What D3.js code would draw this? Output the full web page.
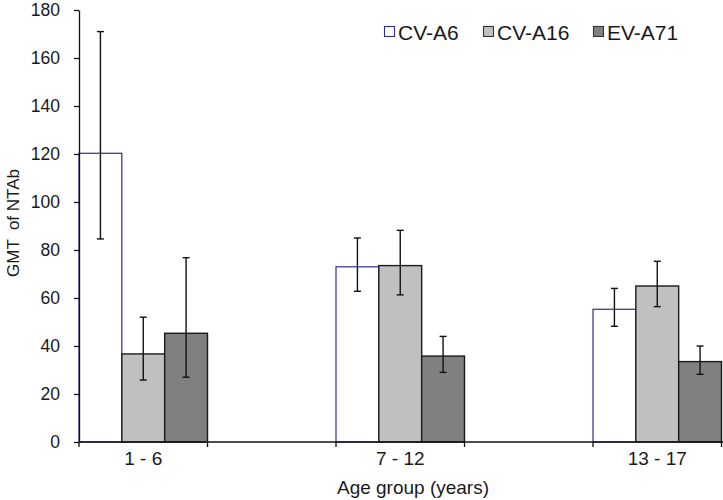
<!DOCTYPE html>
<html>
<head>
<meta charset="utf-8">
<script src="https://cdn.jsdelivr.net/npm/d3@7"></script>
<style>
  html, body { margin: 0; padding: 0; background: #fff; }
  svg { display: block; font-family: "Liberation Sans", Arial, sans-serif; }
</style>
</head>
<body>
<svg id="chart" width="723" height="500"></svg>
<script>
// ---- data ----
const categories = ["1 - 6", "7 - 12", "13 - 17"];
const seriesNames = ["CV-A6", "CV-A16", "EV-A71"];
const cvA6 = [120.3, 73.0, 55.3];
const cvA16 = [36.7, 73.5, 65.0];
const evA71 = [45.3, 35.8, 33.5];
const cvA6Low = [84.6, 62.8, 48.2];
const cvA6High = [171.0, 85.0, 64.0];
const cvA16Low = [25.8, 61.3, 56.4];
const cvA16High = [52.0, 88.2, 75.3];
const evA71Low = [27.0, 29.0, 28.2];
const evA71High = [76.8, 44.0, 40.0];
const yTicks = [0, 20, 40, 60, 80, 100, 120, 140, 160, 180];

const fills = {"CV-A6": "#ffffff", "CV-A16": "#c0c0c0", "EV-A71": "#808080"};
const strokes = {"CV-A6": "#2e2e8f", "CV-A16": "#1a1a1a", "EV-A71": "#1a1a1a"};

const series = [
  {name: "CV-A6", values: cvA6, low: cvA6Low, high: cvA6High},
  {name: "CV-A16", values: cvA16, low: cvA16Low, high: cvA16High},
  {name: "EV-A71", values: evA71, low: evA71Low, high: evA71High}
];

const svg = d3.select("#chart");
const mLeft = 79, mTop = 10, mBottom = 442, axisRight = 723;

const x0 = d3.scaleBand().domain(categories).range([mLeft, 721.5]).paddingInner(0.5).paddingOuter(0);
const x1 = d3.scaleBand().domain(seriesNames).range([0, x0.bandwidth()]).padding(0);
const y = d3.scaleLinear().domain([0, 180]).range([mBottom, mTop]);

// bars
series.forEach(s => {
  const g = svg.append("g");
  g.selectAll("rect").data(categories).join("rect")
    .attr("x", (c) => x0(c) + x1(s.name))
    .attr("y", (c, i) => y(s.values[i]))
    .attr("width", x1.bandwidth())
    .attr("height", (c, i) => y(0) - y(s.values[i]))
    .attr("fill", fills[s.name])
    .attr("stroke", strokes[s.name])
    .attr("stroke-width", s.name === "CV-A6" ? 1.2 : 1.4);
});

// error bars
const cap = 3.5;
series.forEach(s => {
  const g = svg.append("g").attr("stroke", "#111").attr("stroke-width", 1.4);
  categories.forEach((c, i) => {
    const cx = x0(c) + x1(s.name) + x1.bandwidth() / 2;
    g.append("line").attr("x1", cx).attr("x2", cx).attr("y1", y(s.low[i])).attr("y2", y(s.high[i]));
    g.append("line").attr("x1", cx - cap).attr("x2", cx + cap).attr("y1", y(s.low[i])).attr("y2", y(s.low[i]));
    g.append("line").attr("x1", cx - cap).attr("x2", cx + cap).attr("y1", y(s.high[i])).attr("y2", y(s.high[i]));
  });
});

// y axis
const yAxis = svg.append("g").attr("transform", `translate(${mLeft},0)`)
  .call(d3.axisLeft(y).tickValues(yTicks).tickSize(5).tickPadding(14).tickSizeOuter(0));
yAxis.select(".domain").attr("stroke", "#111").attr("stroke-width", 1.3);
yAxis.selectAll(".tick line").attr("stroke", "#111").attr("stroke-width", 1.3);
yAxis.selectAll(".tick text").attr("font-size", 17.5).attr("fill", "#1a1a1a")
  .attr("font-family", "Liberation Sans, Arial, sans-serif");

// x axis
const xg = svg.append("g");
xg.append("line").attr("x1", mLeft).attr("x2", axisRight).attr("y1", mBottom).attr("y2", mBottom)
  .attr("stroke", "#111").attr("stroke-width", 1.3);
const tickXs = [];
categories.forEach(c => { tickXs.push(x0(c)); tickXs.push(x0(c) + x0.bandwidth()); });
xg.selectAll("line.tk").data(tickXs).join("line").attr("class", "tk")
  .attr("x1", d => d).attr("x2", d => d).attr("y1", mBottom).attr("y2", mBottom + 5)
  .attr("stroke", "#111").attr("stroke-width", 1.3);
xg.selectAll("text").data(categories).join("text")
  .attr("x", c => x0(c) + x0.bandwidth() / 2)
  .attr("y", 465)
  .attr("text-anchor", "middle")
  .attr("font-size", 19).attr("fill", "#1a1a1a")
  .text(c => c);

// axis titles
svg.append("text").attr("x", 413).attr("y", 494).attr("text-anchor", "middle")
  .attr("font-size", 19).attr("fill", "#1a1a1a").text("Age group (years)");
svg.append("text").attr("transform", "translate(19,223) rotate(-90)").attr("text-anchor", "middle")
  .attr("font-size", 17).attr("fill", "#1a1a1a").style("white-space", "pre")
  .text("GMT  of NTAb");

// legend
const legendX = [384, 483, 593];
const lg = svg.append("g");
series.forEach((s, i) => {
  lg.append("rect").attr("x", legendX[i] + 0.5).attr("y", 26.5).attr("width", 10).attr("height", 10)
    .attr("fill", fills[s.name]).attr("stroke", s.name === "CV-A6" ? strokes[s.name] : "#333").attr("stroke-width", 1.1);
  lg.append("text").attr("x", legendX[i] + 14).attr("y", 39.5)
    .attr("font-size", 21).attr("fill", "#1a1a1a").text(s.name);
});
</script>
</body>
</html>
